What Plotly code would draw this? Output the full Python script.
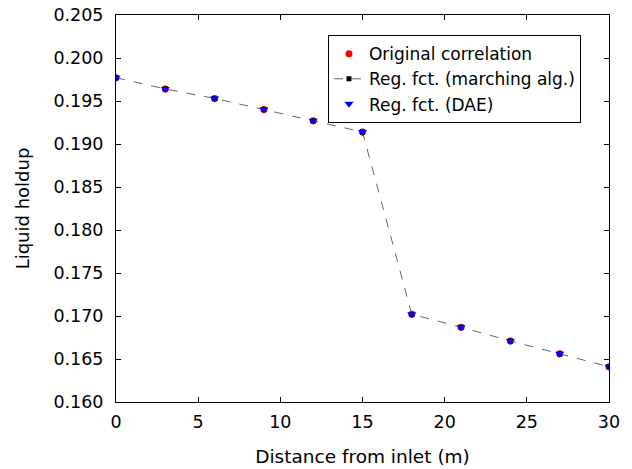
import plotly.graph_objects as go

distance = [0, 3, 6, 9, 12, 15, 18, 21, 24, 27, 30]
original = [0.1977, 0.1964, 0.1953, 0.1940, 0.1927, 0.1914, 0.1702, 0.1687, 0.1671, 0.1656, 0.1641]
marching = [0.1977, 0.1964, 0.1953, 0.1940, 0.1927, 0.1914, 0.1702, 0.1687, 0.1671, 0.1656, 0.1641]
dae = [0.1977, 0.1964, 0.1953, 0.1940, 0.1927, 0.1914, 0.1702, 0.1687, 0.1671, 0.1656, 0.1641]
xticks = [0, 5, 10, 15, 20, 25, 30]
yticks = [0.160, 0.165, 0.170, 0.175, 0.180, 0.185, 0.190, 0.195, 0.200, 0.205]

FONT = "DejaVu Sans, Liberation Sans, Arial, sans-serif"

fig = go.Figure()
fig.add_trace(go.Scatter(x=distance, y=original, mode="markers", name="Original correlation",
                         marker=dict(symbol="circle", size=7, color="red")))
fig.add_trace(go.Scatter(x=distance, y=marching, mode="lines+markers", name="Reg. fct. (marching alg.)",
                         line=dict(color="#666666", width=1, dash="dash"),
                         marker=dict(symbol="square", size=5, color="black")))
fig.add_trace(go.Scatter(x=distance, y=dae, mode="markers", name="Reg. fct. (DAE)",
                         marker=dict(symbol="triangle-down", size=8, color="blue")))

axis_common = dict(showgrid=False, zeroline=False, showline=True, linecolor="black", linewidth=1,
                   mirror="ticks", ticks="inside", ticklen=5, tickcolor="black", automargin=False,
                   tickfont=dict(family=FONT, size=17.5, color="black"))

fig.update_layout(
    width=632, height=469,
    margin=dict(l=116, r=23, t=15, b=67),
    paper_bgcolor="white", plot_bgcolor="white",
    font=dict(family=FONT, size=17.5, color="black"),
    xaxis=dict(range=[0, 30], tickvals=xticks, ticktext=[str(v) for v in xticks],
               title=dict(text="Distance from inlet (m)", font=dict(family=FONT, size=18.5), standoff=19),
               ticklabelstandoff=4, **axis_common),
    yaxis=dict(range=[0.160, 0.205], tickvals=yticks, ticktext=[f"{v:.3f}" for v in yticks],
               title=dict(text="Liquid holdup", font=dict(family=FONT, size=18), standoff=19),
               ticklabelstandoff=8, **axis_common),
    legend=dict(x=0.43, y=0.948, xanchor="left", yanchor="top",
                bgcolor="white", bordercolor="black", borderwidth=1,
                font=dict(family=FONT, size=17), tracegroupgap=0, itemwidth=30),
    showlegend=True,
)

fig.write_html("out.html", config={"displayModeBar": False},
               post_script="document.body.style.margin='0';")
